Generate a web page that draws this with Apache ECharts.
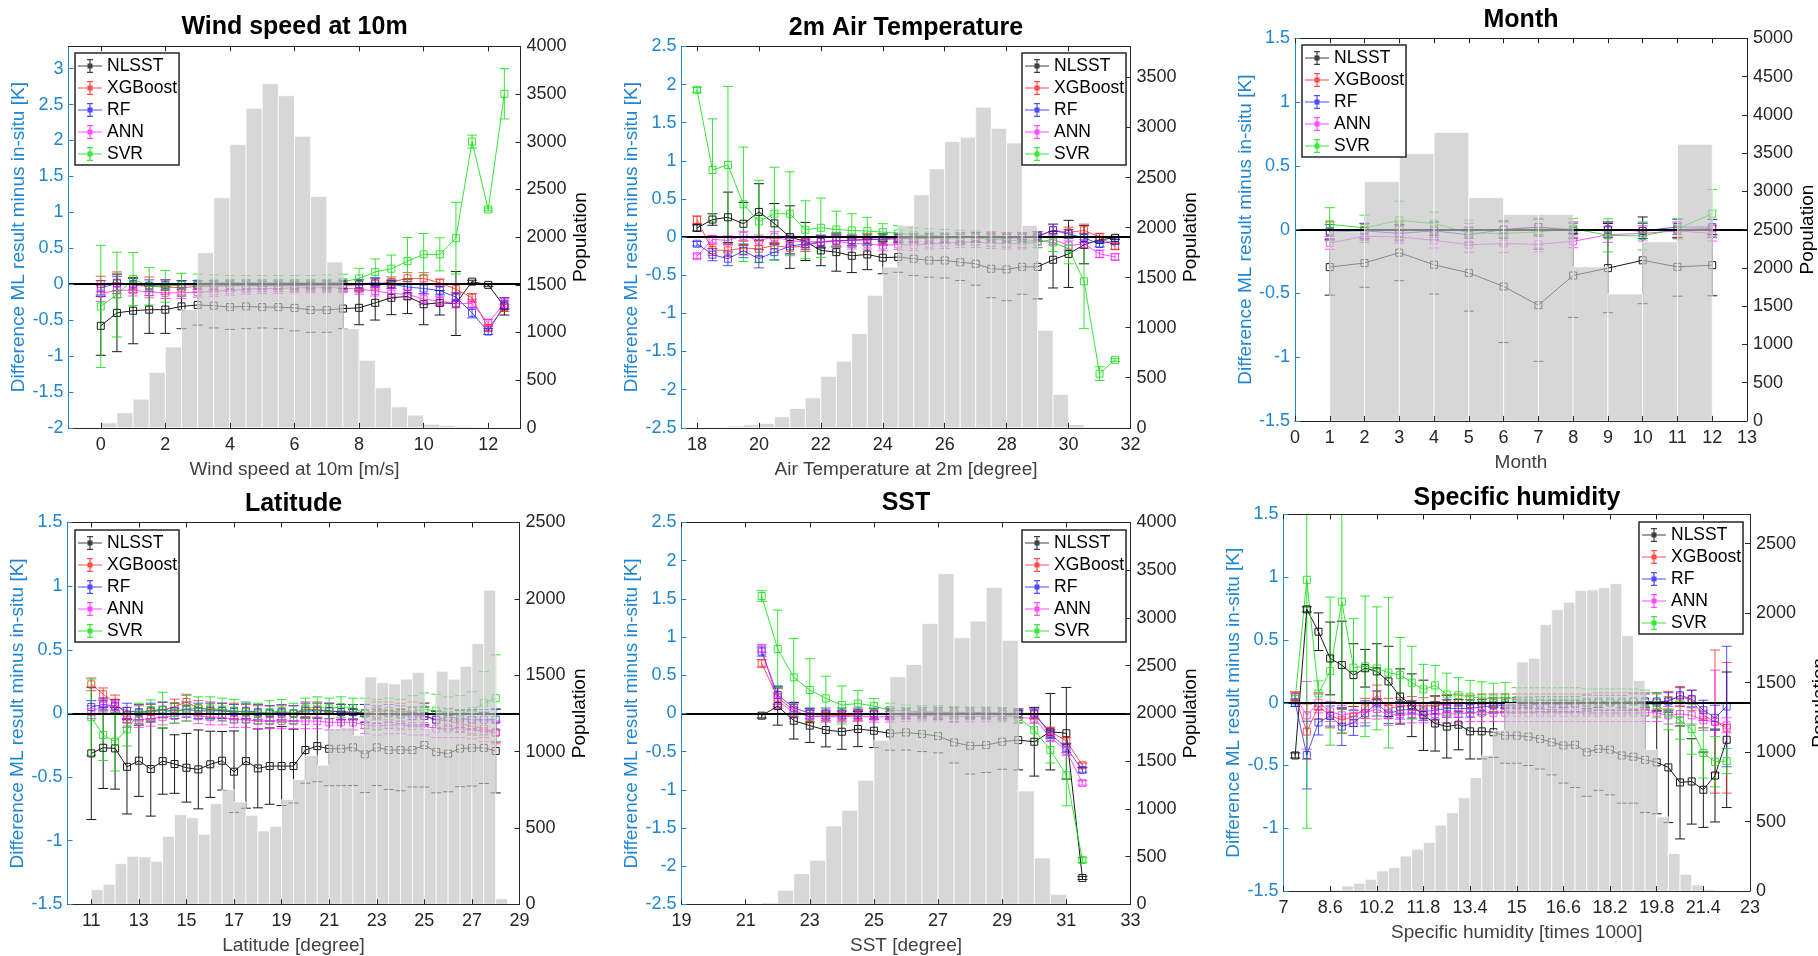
<!DOCTYPE html>
<html><head><meta charset="utf-8">
<script src="https://cdn.jsdelivr.net/npm/echarts@6.0.0/dist/echarts.min.js"></script>
<style>html,body{margin:0;padding:0;background:#fff}#c{width:1818px;height:956px}</style>
</head><body><div id="c"></div><script>
// ---------------- DATA ----------------
const MODELS = ['NLSST','XGBoost','RF','ANN','SVR'];

// Panel 1: wind speed
const ws_x = [0,0.5,1,1.5,2,2.5,3,3.5,4,4.5,5,5.5,6,6.5,7,7.5,8,8.5,9,9.5,10,10.5,11,11.5,12,12.5];
const ws_nlsst = [-0.58,-0.40,-0.37,-0.355,-0.355,-0.31,-0.29,-0.30,-0.32,-0.31,-0.32,-0.32,-0.33,-0.36,-0.36,-0.34,-0.33,-0.26,-0.19,-0.17,-0.28,-0.26,-0.27,0.035,-0.01,-0.31];
const ws_nlsst_err = [0.41,0.54,0.46,0.33,0.33,0.31,0.28,0.31,0.31,0.31,0.29,0.30,0.32,0.31,0.31,0.28,0.235,0.24,0.235,0.24,0.285,0.17,0.445,0.02,0.02,0.12];
const ws_xgb = [0.0,0.02,-0.015,-0.03,-0.04,-0.05,-0.03,-0.03,-0.02,-0.02,-0.02,-0.02,-0.02,-0.02,-0.02,-0.02,-0.01,0.0,0.03,0.08,0.08,0.02,-0.07,-0.19,-0.61,-0.33];
const ws_xgb_err = [0.11,0.15,0.1,0.13,0.1,0.1,0.08,0.08,0.08,0.08,0.08,0.08,0.08,0.08,0.08,0.08,0.07,0.08,0.07,0.08,0.08,0.05,0.07,0.06,0.04,0.05];
const ws_rf = [-0.05,0.01,0.0,-0.02,-0.01,-0.01,-0.01,-0.015,-0.015,-0.015,-0.015,-0.015,-0.015,-0.015,-0.01,-0.01,0.0,0.02,0.0,-0.04,-0.06,-0.09,-0.18,-0.40,-0.66,-0.29];
const ws_rf_err = [0.1,0.1,0.08,0.08,0.07,0.06,0.06,0.06,0.06,0.06,0.06,0.06,0.06,0.06,0.06,0.06,0.06,0.07,0.06,0.08,0.07,0.06,0.06,0.07,0.04,0.06];
const ws_ann = [-0.13,-0.085,-0.085,-0.11,-0.12,-0.12,-0.11,-0.10,-0.085,-0.07,-0.06,-0.06,-0.05,-0.05,-0.05,-0.05,-0.07,-0.095,-0.13,-0.14,-0.21,-0.235,-0.27,-0.27,-0.54,-0.265];
const ws_ann_err = [0.11,0.1,0.08,0.08,0.08,0.08,0.07,0.07,0.07,0.07,0.07,0.07,0.07,0.07,0.07,0.07,0.07,0.07,0.07,0.07,0.07,0.06,0.06,0.06,0.05,0.07];
const ws_svr = [-0.31,-0.145,0.07,-0.03,-0.03,-0.01,0.01,0.02,0.02,0.02,0.02,0.02,0.02,0.02,0.02,0.03,0.08,0.17,0.215,0.32,0.415,0.415,0.64,1.985,1.04,2.65];
const ws_svr_err = [0.85,0.59,0.37,0.26,0.22,0.16,0.13,0.11,0.1,0.1,0.1,0.1,0.1,0.1,0.11,0.11,0.14,0.18,0.19,0.33,0.29,0.23,0.5,0.09,0.02,0.35];
const ws_bin = [0.25,0.75,1.25,1.75,2.25,2.75,3.25,3.75,4.25,4.75,5.25,5.75,6.25,6.75,7.25,7.75,8.25,8.75,9.25,9.75,10.25,10.75,11.25];
const ws_pop = [52,157,300,579,848,1240,1836,2412,2970,3351,3609,3483,3058,2426,1738,1040,708,419,220,133,38,24,17];
const ws_xticks = [0,2,4,6,8,10,12];
const ws_yticks = [-2,-1.5,-1,-0.5,0,0.5,1,1.5,2,2.5,3];
const ws_pticks = [0,500,1000,1500,2000,2500,3000,3500,4000];

// Panel 2: air temperature
const at_x = [18,18.5,19,19.5,20,20.5,21,21.5,22,22.5,23,23.5,24,24.5,25,25.5,26,26.5,27,27.5,28,28.5,29,29.5,30,30.5,31,31.5];
const at_nlsst = [0.12,0.23,0.26,0.175,0.33,0.18,0.0,-0.057,-0.175,-0.197,-0.245,-0.227,-0.27,-0.262,-0.284,-0.306,-0.306,-0.33,-0.35,-0.415,-0.424,-0.39,-0.39,-0.297,-0.22,-0.10,-0.035,-0.01];
const at_nlsst_err = [0.04,0.075,0.33,0.28,0.37,0.26,0.41,0.25,0.2,0.25,0.22,0.2,0.21,0.2,0.22,0.22,0.23,0.24,0.28,0.38,0.41,0.36,0.42,0.37,0.44,0.25,0.03,0.02];
const at_xgb = [0.227,-0.17,-0.175,-0.144,-0.153,-0.11,-0.14,-0.11,-0.066,-0.044,-0.044,-0.02,-0.035,-0.02,-0.02,-0.01,-0.01,0.0,0.0,0.01,0.0,0.0,0.01,0.09,0.06,0.09,0.0,-0.12];
const at_xgb_err = [0.05,0.07,0.08,0.09,0.1,0.09,0.08,0.08,0.07,0.07,0.07,0.07,0.07,0.06,0.06,0.06,0.06,0.06,0.06,0.06,0.06,0.06,0.06,0.08,0.07,0.08,0.05,0.04];
const at_rf = [-0.087,-0.23,-0.284,-0.18,-0.284,-0.197,-0.12,-0.087,-0.066,-0.05,-0.044,-0.035,-0.022,-0.01,-0.01,-0.01,-0.01,-0.01,0.0,-0.01,-0.01,-0.01,0.01,0.09,0.04,-0.01,-0.09,-0.05];
const at_rf_err = [0.03,0.08,0.09,0.09,0.12,0.1,0.1,0.08,0.08,0.08,0.07,0.07,0.07,0.06,0.06,0.06,0.06,0.06,0.06,0.06,0.06,0.06,0.06,0.08,0.06,0.06,0.04,0.04];
const at_ann = [-0.25,-0.03,-0.044,0.017,-0.044,0.0,-0.044,-0.066,-0.057,-0.052,-0.087,-0.087,-0.11,-0.096,-0.105,-0.087,-0.08,-0.066,-0.066,-0.08,-0.087,-0.087,-0.066,-0.03,-0.11,-0.09,-0.22,-0.26];
const at_ann_err = [0.03,0.05,0.06,0.06,0.07,0.07,0.07,0.07,0.07,0.07,0.07,0.07,0.07,0.07,0.07,0.07,0.07,0.07,0.07,0.07,0.07,0.07,0.07,0.07,0.06,0.06,0.05,0.04];
const at_svr = [1.93,0.88,0.946,0.43,0.205,0.306,0.306,0.096,0.122,0.10,0.087,0.079,0.066,0.05,0.03,0.02,0.01,0.0,-0.01,-0.03,-0.04,-0.05,-0.05,-0.07,-0.15,-0.58,-1.79,-1.61];
const at_svr_err = [0.03,0.67,1.03,0.75,0.54,0.61,0.55,0.38,0.39,0.24,0.22,0.18,0.11,0.1,0.09,0.09,0.09,0.09,0.09,0.09,0.09,0.09,0.09,0.12,0.2,0.62,0.09,0.02];
const at_bin = [19.25,19.75,20.25,20.75,21.25,21.75,22.25,22.75,23.25,23.75,24.25,24.75,25.25,25.75,26.25,26.75,27.25,27.75,28.25,28.75,29.25,29.75,30.25];
const at_pop = [17,30,43,110,193,299,515,665,941,1323,1606,2022,2327,2586,2859,2903,3202,2992,2846,2022,974,333,33];
const at_xticks = [18,20,22,24,26,28,30,32];
const at_yticks = [-2.5,-2,-1.5,-1,-0.5,0,0.5,1,1.5,2,2.5];
const at_pticks = [0,500,1000,1500,2000,2500,3000,3500];

// Panel 3: month
const mo_x = [1,2,3,4,5,6,7,8,9,10,11,12];
const mo_nlsst = [-0.294,-0.262,-0.181,-0.276,-0.339,-0.446,-0.593,-0.36,-0.302,-0.241,-0.292,-0.279];
const mo_nlsst_err = [0.22,0.19,0.22,0.23,0.3,0.44,0.44,0.33,0.35,0.34,0.23,0.24];
const mo_xgb = [-0.01,-0.005,0.0,0.0,-0.01,0.0,0.02,0.0,0.0,-0.01,0.0,0.01];
const mo_xgb_err = [0.07,0.05,0.06,0.06,0.06,0.06,0.07,0.06,0.06,0.06,0.06,0.07];
const mo_rf = [-0.02,-0.01,-0.03,-0.01,-0.04,0.0,0.02,-0.01,0.0,-0.01,0.02,0.02];
const mo_rf_err = [0.06,0.06,0.06,0.07,0.06,0.07,0.06,0.06,0.06,0.06,0.06,0.06];
const mo_ann = [-0.105,-0.052,-0.058,-0.084,-0.118,-0.11,-0.115,-0.092,-0.04,-0.03,-0.01,-0.03];
const mo_ann_err = [0.05,0.05,0.05,0.06,0.06,0.07,0.06,0.05,0.06,0.06,0.06,0.06];
const mo_svr = [0.042,0.013,0.073,0.047,-0.026,-0.031,-0.018,0.008,-0.045,-0.05,0.007,0.125];
const mo_svr_err = [0.13,0.1,0.15,0.09,0.1,0.09,0.1,0.08,0.13,0.11,0.08,0.19];
const mo_bin = [1.5,2.5,3.5,4.5,5.5,6.5,7.5,8.5,9.5,10.5,11.5];
const mo_pop = [2470,3127,3493,3769,2917,2699,2699,2013,1659,2341,3616];
const mo_xticks = [0,1,2,3,4,5,6,7,8,9,10,11,12,13];
const mo_yticks = [-1.5,-1,-0.5,0,0.5,1,1.5];
const mo_pticks = [0,500,1000,1500,2000,2500,3000,3500,4000,4500,5000];

// Panel 4: latitude
const la_x = [11,11.5,12,12.5,13,13.5,14,14.5,15,15.5,16,16.5,17,17.5,18,18.5,19,19.5,20,20.5,21,21.5,22,22.5,23,23.5,24,24.5,25,25.5,26,26.5,27,27.5,28];
const la_nlsst = [-0.314,-0.27,-0.275,-0.42,-0.372,-0.437,-0.375,-0.398,-0.427,-0.44,-0.40,-0.372,-0.458,-0.375,-0.432,-0.414,-0.414,-0.414,-0.288,-0.257,-0.278,-0.278,-0.267,-0.322,-0.267,-0.288,-0.288,-0.288,-0.249,-0.304,-0.316,-0.276,-0.271,-0.271,-0.295];
const la_nlsst_err = [0.52,0.32,0.32,0.37,0.28,0.37,0.26,0.23,0.27,0.31,0.26,0.23,0.32,0.37,0.31,0.3,0.31,0.29,0.26,0.28,0.29,0.29,0.3,0.3,0.3,0.31,0.32,0.29,0.33,0.32,0.3,0.3,0.3,0.28,0.33];
const la_xgb = [0.228,0.15,0.084,-0.013,0.0,0.01,0.026,0.052,0.09,0.04,0.03,0.02,0.02,0.01,0.0,0.0,0.0,0.0,0.03,0.03,0.02,0.01,0.01,0.0,0.02,0.02,0.01,0.02,-0.02,-0.05,-0.06,-0.08,-0.1,-0.12,-0.15];
const la_xgb_err = [0.05,0.05,0.06,0.06,0.06,0.06,0.06,0.06,0.06,0.06,0.06,0.06,0.06,0.06,0.06,0.06,0.06,0.06,0.06,0.06,0.06,0.06,0.06,0.07,0.07,0.07,0.07,0.07,0.07,0.07,0.07,0.07,0.07,0.07,0.08];
const la_rf = [0.05,0.07,0.06,0.02,0.01,0.02,0.03,0.02,0.03,0.02,0.02,0.02,0.01,0.02,0.01,0.0,0.01,0.0,0.02,0.02,0.02,0.01,0.01,0.0,-0.01,0.0,-0.01,-0.02,-0.02,-0.05,-0.03,-0.04,-0.05,-0.05,-0.05];
const la_rf_err = [0.05,0.05,0.05,0.06,0.06,0.06,0.06,0.06,0.06,0.06,0.06,0.06,0.06,0.06,0.06,0.06,0.06,0.06,0.06,0.06,0.06,0.06,0.06,0.07,0.07,0.07,0.07,0.07,0.07,0.07,0.07,0.07,0.07,0.08,0.08];
const la_ann = [0.01,0.06,0.05,-0.05,-0.05,-0.04,-0.03,-0.02,0.0,-0.02,-0.03,-0.03,-0.05,-0.05,-0.06,-0.06,-0.06,-0.06,-0.06,-0.06,-0.07,-0.07,-0.07,-0.09,-0.1,-0.09,-0.09,-0.1,-0.1,-0.12,-0.12,-0.12,-0.13,-0.14,-0.15];
const la_ann_err = [0.05,0.05,0.05,0.06,0.06,0.06,0.06,0.06,0.06,0.06,0.06,0.06,0.06,0.06,0.06,0.06,0.06,0.06,0.06,0.06,0.06,0.06,0.06,0.07,0.07,0.07,0.07,0.07,0.07,0.07,0.07,0.07,0.07,0.08,0.09];
const la_svr = [-0.03,-0.17,-0.223,-0.126,0.0,0.026,0.026,0.005,0.04,0.04,0.04,0.03,0.02,0.01,0.0,0.01,0.02,0.0,0.04,0.05,0.04,0.05,0.04,0.0,-0.01,0.0,-0.01,0.02,0.03,0.02,0.0,0.0,0.02,0.08,0.12];
const la_svr_err = [0.3,0.2,0.23,0.13,0.08,0.08,0.14,0.08,0.1,0.09,0.09,0.09,0.09,0.08,0.08,0.09,0.09,0.08,0.08,0.08,0.08,0.08,0.08,0.12,0.12,0.12,0.12,0.12,0.13,0.13,0.13,0.14,0.15,0.25,0.34];
const la_bin = [11.25,11.75,12.25,12.75,13.25,13.75,14.25,14.75,15.25,15.75,16.25,16.75,17.25,17.75,18.25,18.75,19.25,19.75,20.25,20.75,21.25,21.75,22.25,22.75,23.25,23.75,24.25,24.75,25.25,25.75,26.25,26.75,27.25,27.75,28.25];
const la_pop = [96,131,266,314,310,282,445,587,566,459,659,751,670,583,480,511,686,817,976,911,1151,1157,1107,1489,1451,1443,1475,1517,1150,1526,1474,1559,1707,2057,37];
const la_xticks = [11,13,15,17,19,21,23,25,27,29];
const la_yticks = [-1.5,-1,-0.5,0,0.5,1,1.5];
const la_pticks = [0,500,1000,1500,2000,2500];

// Panel 5: SST
const ss_x = [21.5,22,22.5,23,23.5,24,24.5,25,25.5,26,26.5,27,27.5,28,28.5,29,29.5,30,30.5,31,31.5];
const ss_nlsst = [-0.03,0.096,-0.096,-0.16,-0.218,-0.24,-0.205,-0.227,-0.262,-0.25,-0.27,-0.297,-0.38,-0.424,-0.415,-0.371,-0.35,-0.371,-0.24,-0.26,-2.155];
const ss_nlsst_err = [0.03,0.25,0.24,0.22,0.22,0.23,0.23,0.22,0.22,0.23,0.23,0.22,0.27,0.37,0.36,0.36,0.39,0.45,0.5,0.6,0.02];
const ss_xgb = [0.655,0.205,0.044,-0.044,-0.03,-0.03,-0.02,-0.01,-0.01,0.0,0.0,0.0,0.0,0.0,0.0,0.0,0.0,-0.015,-0.24,-0.36,-0.68];
const ss_xgb_err = [0.05,0.12,0.08,0.08,0.07,0.07,0.07,0.07,0.07,0.07,0.07,0.07,0.07,0.07,0.07,0.07,0.06,0.06,0.06,0.04,0.03];
const ss_rf = [0.81,0.24,0.074,0.0,0.0,0.0,0.0,0.0,0.0,0.0,0.01,0.01,0.01,0.01,0.01,0.0,0.0,0.0,-0.27,-0.45,-0.74];
const ss_rf_err = [0.06,0.12,0.07,0.07,0.07,0.07,0.07,0.07,0.07,0.07,0.07,0.07,0.07,0.07,0.07,0.07,0.06,0.06,0.06,0.06,0.03];
const ss_ann = [0.85,0.166,0.01,-0.035,-0.044,-0.044,-0.035,-0.044,-0.044,-0.035,-0.03,-0.03,-0.04,-0.04,-0.04,-0.04,-0.05,-0.07,-0.31,-0.49,-0.91];
const ss_ann_err = [0.05,0.1,0.07,0.07,0.07,0.07,0.07,0.07,0.07,0.07,0.07,0.07,0.07,0.07,0.07,0.07,0.07,0.06,0.06,0.06,0.03];
const ss_svr = [1.537,0.843,0.472,0.306,0.197,0.11,0.13,0.096,0.044,0.03,0.02,0.02,0.01,0.0,0.0,-0.01,-0.05,-0.22,-0.48,-0.81,-1.92];
const ss_svr_err = [0.07,0.51,0.51,0.41,0.29,0.25,0.17,0.1,0.09,0.08,0.08,0.08,0.08,0.08,0.08,0.08,0.08,0.15,0.17,0.4,0.03];
const ss_bin = [21.75,22.25,22.75,23.25,23.75,24.25,24.75,25.25,25.75,26.25,26.75,27.25,27.75,28.25,28.75,29.25,29.75,30.25,30.75];
const ss_pop = [14,147,321,461,821,985,1300,1719,2383,2512,2942,3466,2792,2967,3320,2767,1188,486,105];
const ss_xticks = [19,21,23,25,27,29,31,33];
const ss_yticks = [-2.5,-2,-1.5,-1,-0.5,0,0.5,1,1.5,2,2.5];
const ss_pticks = [0,500,1000,1500,2000,2500,3000,3500,4000];

// Panel 6: specific humidity
const sh_x = [7.4,7.8,8.2,8.6,9.0,9.4,9.8,10.2,10.6,11.0,11.4,11.8,12.2,12.6,13.0,13.4,13.8,14.2,14.6,15.0,15.4,15.8,16.2,16.6,17.0,17.4,17.8,18.2,18.6,19.0,19.4,19.8,20.2,20.6,21.0,21.4,21.8,22.2];
const sh_nlsst = [-0.42,0.744,0.566,0.353,0.30,0.22,0.275,0.25,0.17,0.05,-0.02,-0.1,-0.165,-0.19,-0.175,-0.228,-0.228,-0.235,-0.262,-0.262,-0.27,-0.288,-0.315,-0.34,-0.335,-0.395,-0.368,-0.374,-0.42,-0.43,-0.455,-0.475,-0.515,-0.635,-0.627,-0.693,-0.58,-0.295];
const sh_nlsst_err = [0.02,0.02,0.15,0.29,0.35,0.25,0.15,0.22,0.28,0.22,0.25,0.28,0.22,0.25,0.2,0.22,0.22,0.2,0.22,0.22,0.23,0.24,0.26,0.3,0.34,0.35,0.33,0.36,0.38,0.37,0.42,0.41,0.44,0.45,0.34,0.3,0.37,0.54];
const sh_xgb = [0.048,-0.23,-0.03,-0.1,-0.14,-0.11,-0.045,0.061,-0.045,-0.03,-0.02,-0.03,-0.02,-0.01,0.0,-0.01,0.0,0.0,0.0,0.0,0.0,0.0,0.0,0.0,0.0,0.0,0.01,0.01,0.01,0.01,0.01,0.0,0.02,0.05,0.02,-0.1,-0.15,-0.2];
const sh_xgb_err = [0.04,0.22,0.1,0.1,0.1,0.08,0.08,0.08,0.08,0.07,0.07,0.07,0.07,0.07,0.07,0.07,0.07,0.07,0.07,0.07,0.07,0.07,0.07,0.07,0.07,0.07,0.07,0.07,0.07,0.07,0.07,0.07,0.07,0.08,0.08,0.1,0.57,0.52];
const sh_rf = [0.0,-0.417,-0.157,-0.106,-0.19,-0.16,-0.085,-0.005,-0.085,-0.06,-0.053,-0.07,-0.06,-0.045,-0.045,-0.045,-0.035,-0.02,-0.02,-0.02,-0.02,-0.01,-0.01,-0.01,-0.01,0.0,0.0,0.0,0.0,0.01,0.01,0.01,0.01,0.06,0.03,-0.06,-0.12,-0.03];
const sh_rf_err = [0.03,0.27,0.1,0.08,0.15,0.1,0.1,0.1,0.08,0.07,0.07,0.07,0.07,0.07,0.07,0.07,0.06,0.06,0.06,0.06,0.06,0.06,0.06,0.06,0.06,0.06,0.06,0.06,0.06,0.06,0.06,0.07,0.07,0.06,0.07,0.08,0.1,0.48];
const sh_ann = [0.05,-0.1,0.0,-0.07,-0.1,-0.08,-0.08,-0.05,-0.1,-0.09,-0.09,-0.09,-0.09,-0.09,-0.09,-0.08,-0.08,-0.08,-0.08,-0.08,-0.08,-0.08,-0.08,-0.08,-0.08,-0.08,-0.08,-0.08,-0.08,-0.08,-0.08,-0.08,-0.1,-0.09,-0.1,-0.14,-0.15,-0.18];
const sh_ann_err = [0.03,0.27,0.08,0.08,0.08,0.08,0.08,0.08,0.08,0.07,0.07,0.07,0.07,0.07,0.07,0.07,0.07,0.07,0.07,0.07,0.07,0.07,0.07,0.07,0.07,0.07,0.07,0.07,0.07,0.07,0.07,0.07,0.07,0.07,0.07,0.08,0.41,0.06];
const sh_svr = [0.03,0.98,0.074,0.252,0.805,0.28,0.29,0.274,0.24,0.22,0.16,0.106,0.138,0.066,0.06,0.048,0.037,0.035,0.042,0.02,0.02,0.02,0.02,0.02,0.02,0.01,0.01,0.01,0.01,0.01,0.0,-0.02,-0.085,-0.14,-0.21,-0.4,-0.47,-0.465];
const sh_svr_err = [0.04,1.98,0.1,0.59,1.05,0.39,0.56,0.49,0.6,0.3,0.29,0.2,0.16,0.17,0.14,0.13,0.13,0.12,0.12,0.1,0.1,0.1,0.1,0.1,0.1,0.1,0.1,0.1,0.1,0.1,0.1,0.1,0.13,0.15,0.2,0.2,0.2,0.1];
const sh_bin = [8.8,9.2,9.6,10.0,10.4,10.8,11.2,11.6,12.0,12.4,12.8,13.2,13.6,14.0,14.4,14.8,15.2,15.6,16.0,16.4,16.8,17.2,17.6,18.0,18.4,18.8,19.2,19.6,20.0,20.4,20.8,21.2,21.6];
const sh_pop = [10,36,55,84,144,168,252,300,349,474,563,671,817,978,1157,1349,1649,1676,1918,2024,2079,2163,2168,2183,2212,1837,1515,1019,534,270,120,43,10];
const sh_xticks = [7,8.6,10.2,11.8,13.4,15,16.6,18.2,19.8,21.4,23];
const sh_yticks = [-1.5,-1,-0.5,0,0.5,1,1.5];
const sh_pticks = [0,500,1000,1500,2000,2500];

// ---------------- STYLE / LAYOUT ----------------
const FONT = '"Liberation Sans", Arial, Helvetica, sans-serif';
const BLUE = '#1f86d1';
const DARK = '#262626';
const TICK_FS = 18, NAME_FS = 19, TITLE_FS = 25, LEG_FS = 17.5;
const LINE_COLORS = ['#1a1a1a','rgba(255,25,25,0.75)','rgba(25,25,255,0.75)','rgba(255,25,255,0.75)','rgba(20,225,20,0.85)'];
const LEG_COLORS = ['#404040','#ff4d4d','#4d4dff','#ff4dff','#3be63b'];
const BAR_FILL = 'rgba(195,195,195,0.66)';

const panels = [
  {title:'Wind speed at 10m', xname:'Wind speed at 10m [m/s]', box:[68.5,46.4,452,381.4], tpos:[294.5,13], rgap:51,
   xr:[-1,13], yr:[-2,3.31], pmax:4000, xt:ws_xticks, yt:ws_yticks, pt:ws_pticks, leg:[75,53], bw:0.5,
   x:ws_x, m:[ws_nlsst,ws_xgb,ws_rf,ws_ann,ws_svr], e:[ws_nlsst_err,ws_xgb_err,ws_rf_err,ws_ann_err,ws_svr_err], bin:ws_bin, pop:ws_pop},
  {title:'2m Air Temperature', xname:'Air Temperature at 2m [degree]', box:[681.5,46.4,449,381.4], tpos:[906,14], rgap:51,
   xr:[17.5,32], yr:[-2.5,2.5], pmax:3810, xt:at_xticks, yt:at_yticks, pt:at_pticks, leg:[1022,53], bw:0.5,
   x:at_x, m:[at_nlsst,at_xgb,at_rf,at_ann,at_svr], e:[at_nlsst_err,at_xgb_err,at_rf_err,at_ann_err,at_svr_err], bin:at_bin, pop:at_pop},
  {title:'Month', xname:'Month', box:[1295,38.3,452,382.6], tpos:[1521,6], rgap:51,
   xr:[0,13], yr:[-1.5,1.5], pmax:5000, xt:mo_xticks, yt:mo_yticks, pt:mo_pticks, leg:[1302,45], bw:1,
   x:mo_x, m:[mo_nlsst,mo_xgb,mo_rf,mo_ann,mo_svr], e:[mo_nlsst_err,mo_xgb_err,mo_rf_err,mo_ann_err,mo_svr_err], bin:mo_bin, pop:mo_pop},
  {title:'Latitude', xname:'Latitude [degree]', box:[67.5,522.5,452,381.8], tpos:[293.5,490], rgap:51,
   xr:[10,29], yr:[-1.5,1.5], pmax:2500, xt:la_xticks, yt:la_yticks, pt:la_pticks, leg:[75,530], bw:0.5,
   x:la_x, m:[la_nlsst,la_xgb,la_rf,la_ann,la_svr], e:[la_nlsst_err,la_xgb_err,la_rf_err,la_ann_err,la_svr_err], bin:la_bin, pop:la_pop},
  {title:'SST', xname:'SST [degree]', box:[681.5,522.5,449,381.8], tpos:[906,489], rgap:51,
   xr:[19,33], yr:[-2.5,2.5], pmax:4000, xt:ss_xticks, yt:ss_yticks, pt:ss_pticks, leg:[1022,530], bw:0.5,
   x:ss_x, m:[ss_nlsst,ss_xgb,ss_rf,ss_ann,ss_svr], e:[ss_nlsst_err,ss_xgb_err,ss_rf_err,ss_ann_err,ss_svr_err], bin:ss_bin, pop:ss_pop},
  {title:'Specific humidity', xname:'Specific humidity [times 1000]', box:[1283.5,514.5,466.5,376.5], tpos:[1517,484], rgap:60,
   xr:[7,23], yr:[-1.5,1.5], pmax:2710, xt:sh_xticks, yt:sh_yticks, pt:sh_pticks, leg:[1639,522], bw:0.4,
   x:sh_x, m:[sh_nlsst,sh_xgb,sh_rf,sh_ann,sh_svr], e:[sh_nlsst_err,sh_xgb_err,sh_rf_err,sh_ann_err,sh_svr_err], bin:sh_bin, pop:sh_pop}
];

const LEGEND_ICON = 'path://M0,6.4h24v1.2h-24z M11.4,0h1.2v14h-1.2z M9,0h6v1.2h-6z M9,12.8h6v1.2h-6z M9.5,4.5h5v5h-5z';

function makeErr(color) {
  return function (params, api) {
    const x = api.value(0), y = api.value(1), e = api.value(2);
    const a = api.coord([x, y + e]), b = api.coord([x, y - e]);
    const c = 5;
    const st = {stroke: color, lineWidth: 1, fill: null};
    return {type: 'group', children: [
      {type: 'line', shape: {x1: a[0], y1: a[1], x2: b[0], y2: b[1]}, style: st},
      {type: 'line', shape: {x1: a[0] - c, y1: a[1], x2: a[0] + c, y2: a[1]}, style: st},
      {type: 'line', shape: {x1: b[0] - c, y1: b[1], x2: b[0] + c, y2: b[1]}, style: st}
    ]};
  };
}
function makeBar(w) {
  return function (params, api) {
    const c = api.value(0), h = api.value(1);
    const p0 = api.coord([c - w / 2, h]), p1 = api.coord([c + w / 2, 0]);
    return {type: 'rect', shape: {x: p0[0], y: p0[1], width: p1[0] - p0[0], height: p1[1] - p0[1]},
      style: {fill: BAR_FILL, stroke: 'rgba(255,255,255,0.75)', lineWidth: 1}};
  };
}
const plain = (v) => String(v);

const option = {animation: false, backgroundColor: '#fff', title: [], legend: [], grid: [], xAxis: [], yAxis: [], series: []};
const lbl = (color, fs) => ({color: color, fontSize: fs, fontFamily: FONT});

panels.forEach((p, i) => {
  option.grid.push({left: p.box[0], top: p.box[1], width: p.box[2], height: p.box[3], containLabel: false, outerBoundsMode: 'none'});
  option.title.push({text: p.title, left: p.tpos[0], top: p.tpos[1], textAlign: 'center', padding: 0,
    textStyle: {fontFamily: FONT, fontSize: TITLE_FS, fontWeight: 'bold', color: '#000', lineHeight: 28}});
  option.xAxis.push({gridIndex: i, type: 'value', position: 'bottom', min: p.xr[0], max: p.xr[1], z: 10,
    name: p.xname, nameLocation: 'middle', nameGap: 32, nameTextStyle: lbl('#404040', NAME_FS),
    axisLine: {show: true, onZero: false, lineStyle: {color: DARK, width: 1}},
    axisTick: {show: true, inside: true, length: 5, customValues: p.xt, lineStyle: {color: DARK}},
    axisLabel: {show: true, customValues: p.xt, margin: 8, formatter: plain, ...lbl(DARK, TICK_FS)},
    splitLine: {show: false}});
  option.xAxis.push({gridIndex: i, type: 'value', position: 'top', min: p.xr[0], max: p.xr[1], z: 10,
    axisLine: {show: true, onZero: false, lineStyle: {color: DARK, width: 1}},
    axisTick: {show: true, inside: true, length: 5, customValues: p.xt, lineStyle: {color: DARK}},
    axisLabel: {show: false}, splitLine: {show: false}});
  option.yAxis.push({gridIndex: i, type: 'value', position: 'left', min: p.yr[0], max: p.yr[1], z: 10,
    name: 'Difference ML result minus in-situ [K]', nameLocation: 'middle', nameRotate: 90, nameGap: 40,
    nameTextStyle: lbl(BLUE, NAME_FS),
    axisLine: {show: true, onZero: false, lineStyle: {color: BLUE, width: 1}},
    axisTick: {show: true, inside: true, length: 5, customValues: p.yt, lineStyle: {color: BLUE}},
    axisLabel: {show: true, customValues: p.yt, margin: 5, formatter: plain, ...lbl(BLUE, TICK_FS)},
    splitLine: {show: false}});
  option.yAxis.push({gridIndex: i, type: 'value', position: 'right', min: 0, max: p.pmax, z: 10,
    name: 'Population', nameLocation: 'middle', nameRotate: 90, nameGap: p.rgap,
    nameTextStyle: lbl('#000', NAME_FS),
    axisLine: {show: true, onZero: false, lineStyle: {color: DARK, width: 1}},
    axisTick: {show: true, inside: true, length: 5, customValues: p.pt, lineStyle: {color: DARK}},
    axisLabel: {show: true, customValues: p.pt, margin: 6, formatter: plain, ...lbl(DARK, TICK_FS)},
    splitLine: {show: false}});

  MODELS.forEach((name, j) => {
    option.series.push({type: 'custom', name: name, xAxisIndex: 2 * i, yAxisIndex: 2 * i, z: 2, silent: true, clip: true,
      itemStyle: {color: LEG_COLORS[j]},
      renderItem: makeErr(LINE_COLORS[j]), encode: {x: 0, y: 1},
      data: p.x.map((xv, k) => [xv, p.m[j][k], p.e[j][k]])});
    const ls = {type: 'line', name: name, xAxisIndex: 2 * i, yAxisIndex: 2 * i, z: 3, silent: true,
      symbol: 'rect', symbolSize: 7, showAllSymbol: true,
      lineStyle: {color: LINE_COLORS[j], width: 1},
      itemStyle: {color: 'rgba(0,0,0,0)', borderColor: LINE_COLORS[j], borderWidth: 1},
      emphasis: {disabled: true},
      data: p.x.map((xv, k) => [xv, p.m[j][k]])};
    if (j === 0) {
      ls.markLine = {silent: true, symbol: 'none', label: {show: false}, z: 5,
        lineStyle: {color: '#000', width: 2, type: 'solid'}, data: [{yAxis: 0}]};
    }
    option.series.push(ls);
  });
  option.series.push({type: 'custom', name: 'Population', xAxisIndex: 2 * i, yAxisIndex: 2 * i + 1, z: 6, silent: true, clip: true,
    renderItem: makeBar(p.bw), encode: {x: 0, y: 1},
    data: p.bin.map((c, k) => [c, p.pop[k]])});

  option.legend.push({show: true, left: p.leg[0], top: p.leg[1], orient: 'vertical', z: 20, selectedMode: false,
    data: MODELS.map((n, j) => ({name: n, itemStyle: {color: LEG_COLORS[j], borderWidth: 0}})),
    icon: LEGEND_ICON, itemWidth: 24, itemHeight: 14, itemGap: 2, padding: [3, 2, 1, 3],
    borderColor: DARK, borderWidth: 1.5, backgroundColor: '#fff', borderRadius: 0,
    textStyle: {fontSize: LEG_FS, fontFamily: FONT, color: '#000', lineHeight: 20}});
});

const chart = echarts.init(document.getElementById('c'), null, {renderer: 'canvas'});
chart.setOption(option);
</script></body></html>
